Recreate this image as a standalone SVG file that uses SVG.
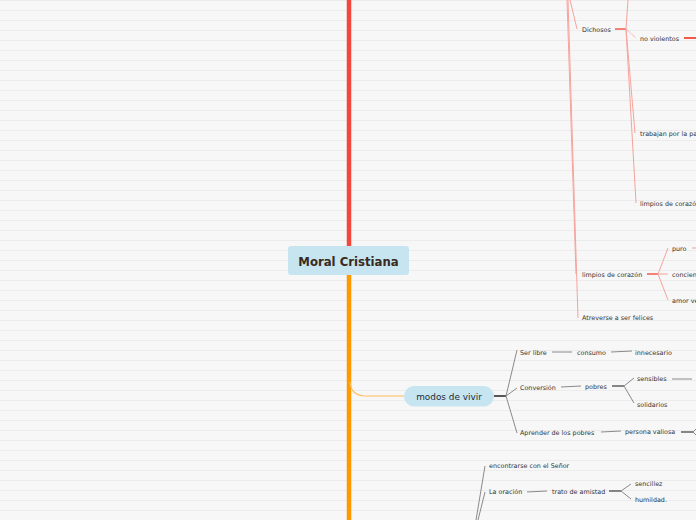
<svg xmlns="http://www.w3.org/2000/svg" width="696" height="520" viewBox="0 0 696 520">
<defs>
<pattern id="bg" x="0" y="0" width="696" height="10" patternUnits="userSpaceOnUse">
<rect x="0" y="0" width="696" height="10" fill="#f7f7f7"/>
<rect x="0" y="0" width="696" height="1" fill="#ececec"/>
</pattern>
<style>
.t{font-family:"DejaVu Sans",Verdana,sans-serif;font-size:6.4px;fill:#333}
.g{stroke:#8a8a8a;stroke-width:1;fill:none}
.gd{stroke:#555;stroke-width:1.4;fill:none}
.s{stroke:#f6a39c;stroke-width:1;fill:none}
.r{stroke:#f25a4c;stroke-width:1.5;fill:none}
</style>
</defs>
<rect width="696" height="520" fill="url(#bg)"/>
<g id="connectors">
<line x1="349" y1="0" x2="349" y2="247" stroke="#f2473d" stroke-width="4.5"/>
<line x1="349" y1="274" x2="349" y2="520" stroke="#ff9900" stroke-width="4.5"/>
<path d="M350,382 Q351,396 366,396 L405,396" stroke="#ffbe5c" stroke-width="1.2" fill="none"/>
<path class="s" d="M570,0 L577,29"/>
<path class="s" d="M567,0 L576,274"/>
<path class="s" d="M568,0 L578,318"/>
<path class="r" d="M615,29 L626,29"/>
<path class="s" d="M628,0 L626,29"/>
<path class="s" d="M626,29 L636,38" stroke-dasharray="1,0.6"/>
<path class="s" d="M626,29 L635,133"/>
<path class="s" d="M626,29 L636,203"/>
<path d="M684,38 L696,38" stroke="#f25a4c" stroke-width="2" fill="none"/>
<path class="r" d="M647,274 L658,274"/>
<path class="s" d="M658,274 L668,248"/>
<path class="s" d="M658,274 L668,274"/>
<path class="s" d="M658,274 L668,300"/>
<path class="s" d="M692,248 L696,248"/>
<path d="M494,396 L506,396" stroke="#222" stroke-width="1.5" fill="none"/>
<path class="g" d="M506,396 L517,350"/>
<path class="g" d="M506,396 L517,388"/>
<path class="g" d="M506,396 L517,433"/>
<path class="g" d="M552,352 L572,352"/>
<path class="g" d="M611,352 L632,351"/>
<path class="g" d="M561,387 L581,386"/>
<path class="gd" d="M612,386 L624,386"/>
<path class="g" d="M624,386 L634,378"/>
<path class="g" d="M624,386 L634,403"/>
<path class="g" d="M672,379 L692,379"/>
<path class="g" d="M601,432 L621,431"/>
<path class="gd" d="M681,432 L693,432"/>
<path class="g" d="M693,432 L696,429"/>
<path class="g" d="M693,432 L696,435"/>
<path class="g" d="M485,466 L476,520"/>
<path class="g" d="M485,492 L478,520"/>
<path class="g" d="M527,492 L547,491"/>
<path class="gd" d="M609,491 L621,491"/>
<path class="g" d="M621,491 L631,484"/>
<path class="g" d="M621,491 L631,499"/>
</g>
<g id="central">
<rect x="288" y="246" width="121" height="29" rx="3" fill="#c6e5f0"/>
<text x="348.5" y="265.5" text-anchor="middle" style="font-family:'DejaVu Sans',Verdana,sans-serif;font-size:11.7px;font-weight:bold;fill:#3a2a20">Moral Cristiana</text>
</g>
<g id="modos">
<rect x="404" y="386" width="90" height="20.5" rx="10.25" fill="#c6e5f0"/>
<text x="449" y="399.5" text-anchor="middle" style="font-family:'DejaVu Sans',Verdana,sans-serif;font-size:8.9px;fill:#1e2a36">modos de vivir</text>
</g>
<g id="dichosos"><text class="t" x="582" y="31.5">Dichosos</text></g>
<g id="noviolentos"><text class="t" x="640" y="40.5">no violentos</text></g>
<g id="trabajan"><text class="t" x="640" y="135.5">trabajan por la paz</text></g>
<g id="limpios1"><text class="t" x="640" y="205.5">limpios de corazón</text></g>
<g id="limpios2"><text class="t" x="582" y="276.5">limpios de corazón</text></g>
<g id="puro"><text class="t" x="672" y="250.5">puro</text></g>
<g id="conciencia"><text class="t" x="672" y="276.5">conciencia</text></g>
<g id="amor"><text class="t" x="672" y="302.5">amor verdadero</text></g>
<g id="atreverse"><text class="t" x="582" y="319.5">Atreverse a ser felices</text></g>
<g id="serlibre"><text class="t" x="520" y="354.5">Ser libre</text></g>
<g id="consumo"><text class="t" x="577" y="354.5">consumo</text></g>
<g id="innecesario"><text class="t" x="635" y="354.5">innecesario</text></g>
<g id="conversion"><text class="t" x="520" y="389.5">Conversión</text></g>
<g id="pobres"><text class="t" x="585" y="388.5">pobres</text></g>
<g id="sensibles"><text class="t" x="637" y="380.5">sensibles</text></g>
<g id="solidarios"><text class="t" x="637" y="406.5">solidarios</text></g>
<g id="aprender"><text class="t" x="520" y="434.5">Aprender de los pobres</text></g>
<g id="persona"><text class="t" x="625" y="434">persona valiosa</text></g>
<g id="encontrarse"><text class="t" x="489" y="467.5">encontrarse con el Señor</text></g>
<g id="oracion"><text class="t" x="489" y="493.5">La oración</text></g>
<g id="trato"><text class="t" x="552" y="493.5">trato de amistad</text></g>
<g id="sencillez"><text class="t" x="635" y="485.5">sencillez</text></g>
<g id="humildad"><text class="t" x="635" y="501.5">humildad.</text></g>
</svg>
